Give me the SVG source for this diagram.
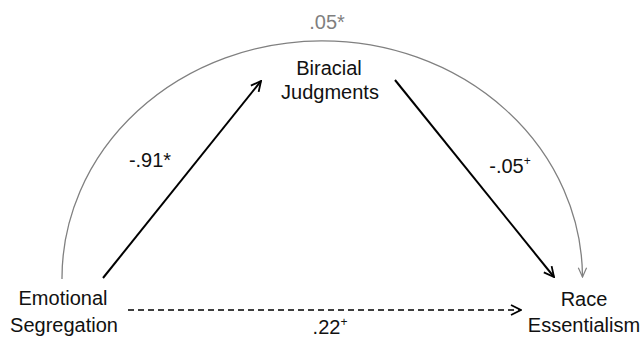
<svg xmlns="http://www.w3.org/2000/svg" width="643" height="337" viewBox="0 0 643 337">
<style>
text{font-family:"Liberation Sans",Arial,sans-serif;font-size:20px;fill:#111;text-anchor:middle}
.gray{fill:#7f7f7f}
.solid{stroke:#000;stroke-width:2;fill:none}
.dash{stroke:#000;stroke-width:1.6;fill:none;stroke-dasharray:6 4}
.arc{stroke:#808080;stroke-width:1.3;fill:none}
.sup{font-size:12px}
</style>
<defs>
<marker id="ah" viewBox="0 0 12 12" refX="11" refY="6" markerWidth="12" markerHeight="12" markerUnits="userSpaceOnUse" orient="auto">
<path d="M1 1 L11 6 L1 11" fill="none" stroke="#000" stroke-width="1.8"/>
</marker>
<marker id="ahg" viewBox="0 0 12 12" refX="11" refY="6" markerWidth="11" markerHeight="11" markerUnits="userSpaceOnUse" orient="auto">
<path d="M1 1.5 L11 6 L1 10.5" fill="none" stroke="#808080" stroke-width="1.3"/>
</marker>
</defs>
<g id="connectors">
<path class="arc" d="M62 279 A260 237 0 0 1 582.5 277" marker-end="url(#ahg)"/>
<line class="solid" x1="103" y1="278" x2="261" y2="81" marker-end="url(#ah)"/>
<line class="solid" x1="395" y1="80" x2="554" y2="277" marker-end="url(#ah)"/>
<line class="dash" x1="128" y1="310" x2="521" y2="310" marker-end="url(#ah)"/>
<text class="gray" x="327" y="29">.05*</text>
<text x="150" y="167">-.91*</text>
<text x="510" y="173">-.05<tspan class="sup" dy="-8">+</tspan></text>
<text x="330" y="334">.22<tspan class="sup" dy="-8">+</tspan></text>
</g>
<g id="emotional-segregation">
<text x="63" y="305">Emotional</text>
<text x="64" y="332">Segregation</text>
</g>
<g id="biracial-judgments">
<text x="329" y="75">Biracial</text>
<text x="330" y="99">Judgments</text>
</g>
<g id="race-essentialism">
<text x="584" y="306">Race</text>
<text x="584" y="332">Essentialism</text>
</g>
</svg>
